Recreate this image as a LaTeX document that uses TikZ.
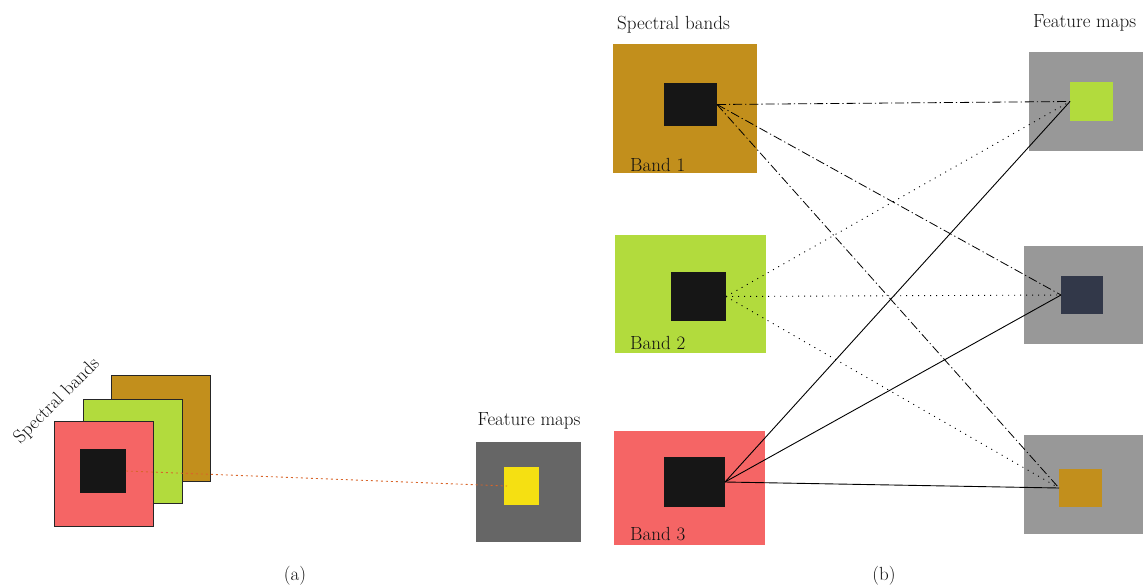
\documentclass[tikz,border=0pt]{standalone}
\usepackage{tikz}
\definecolor{bandbrown}{HTML}{C28F1C}
\definecolor{bandgreen}{HTML}{B2DB3D}
\definecolor{bandred}{HTML}{F56565}
\definecolor{patch}{HTML}{161616}
\definecolor{mapdark}{HTML}{666666}
\definecolor{mapgray}{HTML}{989898}
\definecolor{mapyellow}{HTML}{F5E012}
\definecolor{mapnavy}{HTML}{323849}
\definecolor{linkorange}{HTML}{D9652A}
\definecolor{txt}{HTML}{111111}

\begin{document}
\begin{tikzpicture}[x=1pt,y=-1pt,
  sq/.style={inner sep=0pt,outer sep=0pt},
  edged/.style={draw=black!85,line width=0.8pt},
  lbl/.style={font=\fontsize{19}{21}\selectfont,text=txt,inner sep=0pt},
  dashdotlink/.style={black,line width=0.8pt,dash pattern=on 9pt off 3pt on 1.2pt off 3pt},
  dotlink/.style={black,line width=0.9pt,dash pattern=on 1pt off 5pt},
  solidlink/.style={black,line width=0.9pt}]
\clip (0,0) rectangle (1143,584);
% (a)
\node[sq,edged,fill=bandbrown,minimum width=99pt,minimum height=106pt] (abrown) at (160.5,428) {};
\node[sq,edged,fill=bandgreen,minimum width=99pt,minimum height=104pt] (agreen) at (132.5,451) {};
\node[sq,edged,fill=bandred,minimum width=99pt,minimum height=105pt] (ared) at (103.5,473.5) {};
\node[sq,fill=patch,minimum width=46pt,minimum height=44pt] (apatch) at (103,471) {};
\node[lbl,rotate=45] (aspec) at (57,401) {Spectral bands};
\node[sq,fill=mapdark,minimum width=105pt,minimum height=100pt] (amap) at (528.5,492) {};
\node[sq,fill=mapyellow,minimum width=35pt,minimum height=38pt] (ayellow) at (521.5,486) {};
\node[lbl,anchor=base] (afeat) at (529,425) {Feature maps};
\draw[linkorange,line width=0.9pt,dash pattern=on 2pt off 3pt] (apatch.east) -- ([xshift=3pt]ayellow.west);
\node[lbl,anchor=base] (alab) at (295,580) {(a)};
% (b)
\node[lbl,anchor=base west] (bspec) at (617,29) {Spectral bands};
\node[sq,fill=bandbrown,minimum width=144pt,minimum height=129pt] (band1) at (685,108.5) {};
\node[sq,fill=patch,minimum width=53pt,minimum height=43pt] (p1) at (690.5,104.5) {};
\node[lbl,anchor=base west] (l1) at (630,171) {Band 1};
\node[sq,fill=bandgreen,minimum width=151pt,minimum height=118pt] (band2) at (690.5,294) {};
\node[sq,fill=patch,minimum width=55pt,minimum height=49pt] (p2) at (698.5,296.5) {};
\node[lbl,anchor=base west] (l2) at (630,349) {Band 2};
\node[sq,fill=bandred,minimum width=151pt,minimum height=114pt] (band3) at (689.5,488) {};
\node[sq,fill=patch,minimum width=61pt,minimum height=50pt] (p3) at (694.5,482) {};
\node[lbl,anchor=base west] (l3) at (630,540) {Band 3};
\node[lbl,anchor=base west] (bfeat) at (1033,27) {Feature maps};
\node[sq,fill=mapgray,minimum width=130pt,minimum height=99pt] (map1) at (1094,101.5) {};
\node[sq,fill=bandgreen,minimum width=43pt,minimum height=39pt] (f1) at (1091.5,101.5) {};
\node[sq,fill=mapgray,minimum width=130pt,minimum height=98pt] (map2) at (1089,295) {};
\node[sq,fill=mapnavy,minimum width=42pt,minimum height=38pt] (f2) at (1082,295) {};
\node[sq,fill=mapgray,minimum width=130pt,minimum height=99pt] (map3) at (1089,484.5) {};
\node[sq,fill=bandbrown,minimum width=43pt,minimum height=38pt] (f3) at (1080.5,488) {};
\draw[dashdotlink] (p1.east) -- (f1.west);
\draw[dashdotlink] (p1.east) -- (f2.west);
\draw[dashdotlink] (p1.east) -- (f3.west);
\draw[dotlink] (p2.east) -- (f1.west);
\draw[dotlink] (p2.east) -- (f2.west);
\draw[dotlink] (p2.east) -- (f3.west);
\draw[solidlink] (p3.east) -- (f1.west);
\draw[solidlink] (p3.east) -- (f2.west);
\draw[solidlink] (p3.east) -- (f3.west);
\node[lbl,anchor=base] (blab) at (884,580) {(b)};
\end{tikzpicture}
\end{document}
